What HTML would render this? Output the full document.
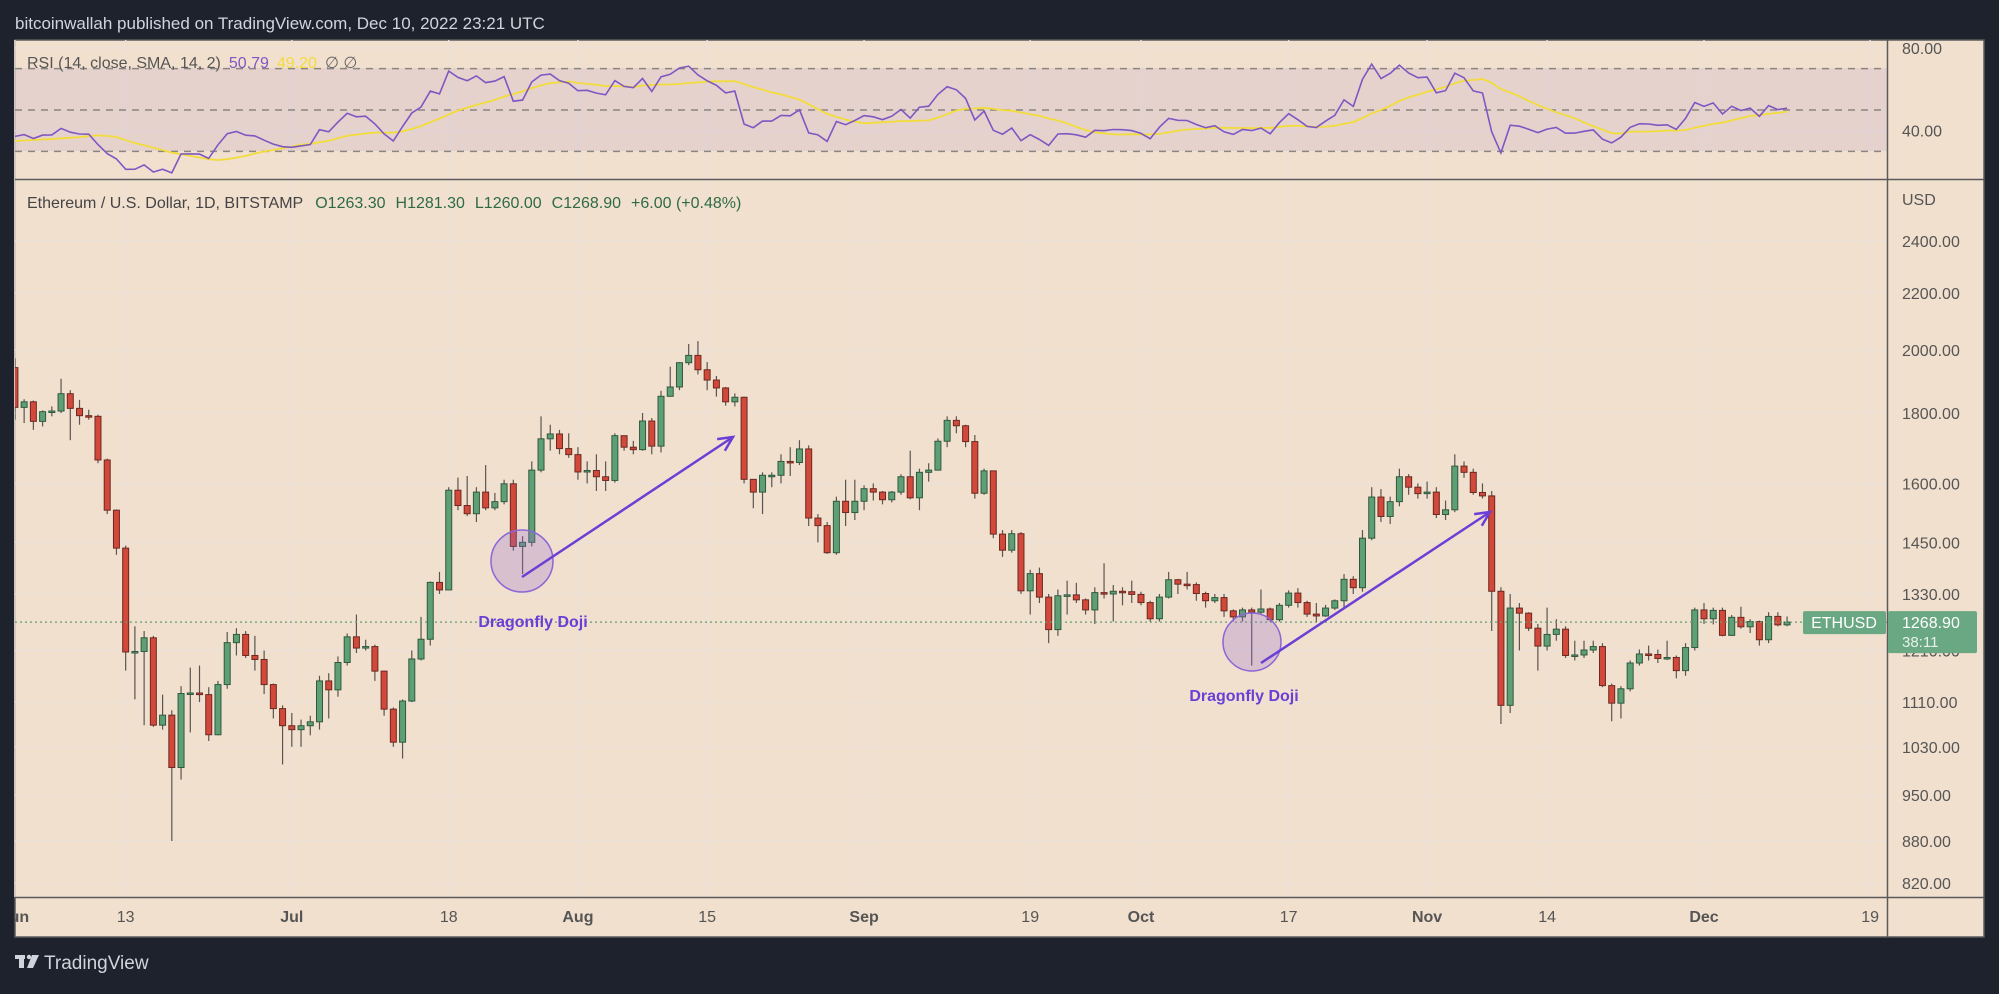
<!DOCTYPE html>
<html><head><meta charset="utf-8">
<style>
html,body{margin:0;padding:0;background:#1e222d;}
body{width:1999px;height:989px;overflow:hidden;font-family:"Liberation Sans",sans-serif;}
svg text{font-family:"Liberation Sans",sans-serif;}
</style></head>
<body>
<svg id="chart" width="1999" height="989" xmlns="http://www.w3.org/2000/svg">
  <defs>
    <clipPath id="mainClip"><rect x="15" y="180" width="1872" height="717"/></clipPath>
    <clipPath id="rsiClip"><rect x="15" y="40" width="1872" height="139"/></clipPath>
    <clipPath id="timeClip"><rect x="15" y="897" width="1872" height="40"/></clipPath>
  </defs>
  <text x="15" y="29" fill="#d1d4dc" font-size="17">bitcoinwallah published on TradingView.com, Dec 10, 2022 23:21 UTC</text>
  <rect x="15" y="40" width="1969" height="897" fill="#f2e0cf" stroke="#5a5a5a" stroke-width="1.5"/>
  <g id="grid"></g>
  <rect x="15" y="68" width="1872" height="83" fill="rgba(126,87,194,0.10)"/>
  <g id="rsiLevels"></g>
  <g id="rsiPane" clip-path="url(#rsiClip)"></g>
  <g id="mainPane" clip-path="url(#mainClip)"></g>
  <line x1="15" y1="179.5" x2="1984" y2="179.5" stroke="#5a5a5a" stroke-width="1.5"/>
  <line x1="1887.5" y1="40" x2="1887.5" y2="937" stroke="#5a5a5a" stroke-width="1.5"/>
  <line x1="15" y1="897.5" x2="1984" y2="897.5" stroke="#5a5a5a" stroke-width="1.5"/>
  <g id="axes"></g>
  <g id="timeAxis" clip-path="url(#timeClip)"></g>
  <text x="27" y="68" font-size="16" fill="#555"><tspan>RSI (14, close, SMA, 14, 2)</tspan><tspan dx="8" fill="#7e57c2">50.79</tspan><tspan dx="8" fill="#f2dc3a">49.20</tspan><tspan dx="8" fill="#666">∅ ∅</tspan></text>
  <text x="27" y="208" font-size="16" fill="#444"><tspan>Ethereum / U.S. Dollar, 1D, BITSTAMP</tspan><tspan dx="12" fill="#2e6b45">O1263.30</tspan><tspan dx="10" fill="#2e6b45">H1281.30</tspan><tspan dx="10" fill="#2e6b45">L1260.00</tspan><tspan dx="10" fill="#2e6b45">C1268.90</tspan><tspan dx="10" fill="#2e6b45">+6.00 (+0.48%)</tspan></text>
  <text x="1902" y="205" font-size="16" fill="#555">USD</text>
  <g>
    <rect x="15" y="955" width="10" height="4" fill="#d1d4dc"/>
    <rect x="19" y="955" width="5" height="13" fill="#d1d4dc"/>
    <circle cx="29" cy="957" r="2.2" fill="#d1d4dc"/>
    <polygon points="32,955 39,955 33,968 27,968" fill="#d1d4dc"/>
    <text x="44" y="969" font-size="19" fill="#d1d4dc">TradingView</text>
  </g>
</svg>
<script>
// ---- data ----
const preCloses = [2728,2859,2783,2940,2749,2695,2636,2519,2245,2342,2074,1960,2013,2060,2145,2025,2090,1912,2018,1961,1975,2043,1972,1978,1943,1793,1725,1793,1812,1997,1942];
const closes = [
1817,1834,1775,1804,1806,1859,1814,1792,1790,1664,1530,1436,1207,1208,1236,1068,1086,995,1126,1127,1124,1051,1143,1226,1243,1200,1192,1143,1098,1067,
1060,1067,1074,1150,1133,1186,1238,1215,1218,1169,1097,1038,1112,1193,1233,1356,1339,1582,1542,1521,1577,1536,1552,1599,1440,1450,1636,1724,1738,1696,1679,
1631,1635,1618,1608,1733,1700,1693,1776,1703,1851,1880,1958,1982,1935,1902,1877,1834,1848,1611,1577,1622,1622,1660,1657,1695,1510,1491,1425,1553,1524,1553,
1586,1577,1557,1577,1618,1562,1630,1636,1717,1778,1762,1716,1574,1634,1470,1431,1471,1337,1376,1323,1253,1326,1328,1317,1295,1333,1330,1336,1335,1329,
1311,1276,1323,1362,1352,1351,1331,1315,1322,1293,1280,1295,1290,1297,1274,1305,1332,1311,1286,1282,1299,1315,1363,1344,1460,1564,1514,1552,1618,1590,1573,
1577,1519,1531,1647,1630,1576,1567,1336,1104,1299,1288,1256,1219,1243,1254,1200,1201,1211,1218,1141,1108,1135,1185,1203,1202,1194,1196,1170,1216,1295,
1276,1294,1241,1279,1259,1270,1232,1281,1263,1269];
const highs = [
1972,1842,1838,1808,1820,1906,1870,1840,1810,1795,1668,1532,1442,1260,1250,1240,1124,1095,1140,1176,1180,1138,1150,1248,1256,1250,1240,1210,1145,1104,
1090,1078,1085,1160,1165,1198,1245,1285,1232,1222,1170,1100,1115,1210,1280,1358,1380,1590,1616,1620,1590,1650,1575,1610,1610,1465,1660,1790,1765,1750,1740,
1700,1660,1680,1660,1740,1730,1718,1800,1785,1868,1945,1960,2020,2030,1960,1915,1880,1860,1850,1605,1630,1630,1680,1700,1720,1705,1520,1500,1565,1610,1610,
1595,1600,1580,1580,1625,1690,1640,1655,1725,1790,1790,1765,1735,1640,1635,1480,1480,1475,1385,1390,1330,1340,1360,1355,1320,1345,1400,1350,1345,1360,
1335,1315,1330,1380,1364,1380,1356,1335,1330,1330,1296,1300,1300,1340,1300,1310,1338,1343,1315,1310,1306,1318,1375,1370,1480,1590,1585,1565,1640,1625,1600,
1605,1590,1555,1680,1660,1640,1600,1580,1345,1330,1310,1290,1265,1300,1275,1260,1230,1230,1230,1225,1145,1140,1190,1212,1220,1212,1230,1200,1225,1300,
1310,1300,1300,1284,1302,1275,1272,1290,1290,1281];
const lows = [
1780,1770,1750,1760,1790,1800,1720,1765,1780,1655,1520,1420,1170,1115,1068,1065,1060,880,975,1055,1110,1040,1050,1135,1200,1195,1170,1125,1080,1000,
1030,1030,1050,1060,1080,1120,1180,1205,1210,1150,1085,1030,1010,1110,1190,1220,1330,1340,1530,1515,1500,1530,1530,1545,1430,1375,1440,1630,1690,1680,1670,
1610,1600,1580,1580,1602,1690,1680,1690,1680,1685,1850,1870,1950,1920,1870,1850,1822,1820,1600,1535,1520,1590,1600,1620,1650,1490,1450,1422,1420,1490,1505,
1530,1555,1545,1550,1570,1558,1530,1605,1635,1700,1740,1700,1560,1570,1460,1415,1425,1330,1285,1310,1225,1240,1285,1310,1285,1265,1320,1270,1305,1310,
1305,1270,1270,1320,1330,1340,1315,1300,1310,1280,1270,1270,1180,1285,1270,1270,1300,1300,1280,1270,1280,1295,1300,1330,1335,1455,1500,1495,1540,1570,1560,
1560,1510,1505,1525,1615,1570,1560,1250,1070,1090,1210,1250,1170,1210,1230,1195,1190,1195,1205,1138,1075,1080,1130,1180,1190,1185,1191,1155,1160,1210,
1265,1264,1239,1240,1255,1246,1220,1225,1260,1260];
const priceTicks = [2400,2200,2000,1800,1600,1450,1330,1210,1110,1030,950,880,820];
const priceTickLabels = ["2400.00","2200.00","2000.00","1800.00","1600.00","1450.00","1330.00","1210.00","1110.00","1030.00","950.00","880.00","820.00"];
const timeTickDays = [0,12,30,47,61,75,92,110,122,138,153,166,183,201];
const timeTickLabels = ["Jun","13","Jul","18","Aug","15","Sep","19","Oct","17","Nov","14","Dec","19"];
const timeTickBold = [1,0,1,0,1,0,1,0,1,0,1,0,1,0];
const rsiLevels = [70,50,30];
const lastPrice = 1268.9;

// ---- scales ----
const NS = "http://www.w3.org/2000/svg";
function xDay(d){ return 1704 + (d - 183) * 9.23; }
function yPrice(p){ return 350 + (Math.log(2000) - Math.log(p)) * 598; }
function yRsi(v){ return 110 - (v - 50) * 2.07; }
function mk(tag, attrs, parent){ const e=document.createElementNS(NS,tag); for(const k in attrs) e.setAttribute(k,attrs[k]); parent.appendChild(e); return e; }

const grid=document.getElementById('grid'), axes=document.getElementById('axes'), tAxis=document.getElementById('timeAxis');
const main=document.getElementById('mainPane'), rsiG=document.getElementById('rsiPane'), lv=document.getElementById('rsiLevels');

// grid
timeTickDays.forEach((d,i)=>{
  const x=xDay(d);
  const gl=mk('line',{x1:x,y1:40,x2:x,y2:897,stroke:'#ebe1d8','stroke-width':1.5},grid);
  
  
  const t=mk('text',{x:x,y:922,'text-anchor':'middle','font-size':16,fill:'#555','font-weight':timeTickBold[i]?'bold':'normal'},tAxis);
  t.textContent=timeTickLabels[i];
  
  
});
priceTicks.forEach((p,i)=>{
  const y=yPrice(p);
  const gl=mk('line',{x1:15,y1:y,x2:1887,y2:y,stroke:'#ebe1d8','stroke-width':1.5},grid);
  
  
  const t=mk('text',{x:1902,y:y+6,'font-size':16,fill:'#555'},axes);
  t.textContent=priceTickLabels[i];
  
  
});
[80,40].forEach(v=>{
  const y=yRsi(v);
  mk('line',{x1:15,y1:y,x2:1887,y2:y,stroke:'#ebe1d8','stroke-width':1.5},grid);
  const t=mk('text',{x:1902,y:y+6,'font-size':16,fill:'#555'},axes);
  t.textContent=v.toFixed(2);
  
  
});
rsiLevels.forEach(v=>{
  const l=mk('line',{x1:15,y1:yRsi(v),x2:1887,y2:yRsi(v),stroke:'#8a8580','stroke-width':1.5,'stroke-dasharray':'7 6'},lv);
  
  
});

// candles
const n=Math.min(closes.length,highs.length,lows.length);
for(let i=0;i<n;i++){
  const o = i===0 ? preCloses[preCloses.length-1] : closes[i-1];
  const c = closes[i];
  const h = Math.max(highs[i],o,c), l=Math.min(lows[i],o,c);
  const x = xDay(i);
  const up = c>=o;
  const g=mk('g',{},main);
  
  
  mk('line',{x1:x,y1:yPrice(h),x2:x,y2:yPrice(l),stroke:'#5a5550','stroke-width':1.2},g);
  const yt=yPrice(Math.max(o,c)), yb=yPrice(Math.min(o,c));
  mk('rect',{x:x-3,y:yt,width:6,height:Math.max(1.5,yb-yt),fill:up?'#5f9f76':'#d2483a',stroke:up?'#2f5a3e':'#6b2a22','stroke-width':1},g);
}

// RSI (Wilder) + SMA
const all=preCloses.concat(closes.slice(0,n));
const rsi=[]; let ag=0, al=0;
for(let i=1;i<all.length;i++){
  const ch=all[i]-all[i-1], gn=Math.max(ch,0), ls=Math.max(-ch,0);
  if(i<=14){ ag+=gn/14; al+=ls/14; } else { ag=(ag*13+gn)/14; al=(al*13+ls)/14; }
  rsi[i]= i>=14 ? (al===0?100:100-100/(1+ag/al)) : null;
}
const off=preCloses.length;
let rp='', sp='';
for(let i=0;i<n;i++){
  const k=i+off, v=rsi[k];
  rp += (i?'L':'M')+xDay(i).toFixed(1)+','+yRsi(v).toFixed(1);
  let s=0; for(let j=0;j<14;j++) s+=rsi[k-j]; s/=14;
  sp += (i?'L':'M')+xDay(i).toFixed(1)+','+yRsi(s).toFixed(1);
}
const sl=mk('path',{d:sp,fill:'none',stroke:'#f2dc3a','stroke-width':1.8},rsiG);


const rl=mk('path',{d:rp,fill:'none',stroke:'#7e57c2','stroke-width':1.6},rsiG);



// last price line + labels
const yl=yPrice(lastPrice);
const pl=mk('line',{x1:15,y1:yl,x2:1887,y2:yl,stroke:'#5f9f76','stroke-width':1.2,'stroke-dasharray':'2 3'},main);


const svg=document.getElementById('chart');
const sym=mk('g',{},svg);


mk('rect',{x:1803,y:yl-11,width:83,height:23,rx:2,fill:'#6aa783'},sym);
const st=mk('text',{x:1844,y:yl+6,'text-anchor':'middle','font-size':16,fill:'#fff'},sym); st.textContent='ETHUSD';
const pt=mk('g',{},svg);


mk('rect',{x:1888,y:yl-11,width:89,height:42,rx:2,fill:'#6aa783'},pt);
const t1=mk('text',{x:1902,y:yl+6,'font-size':16,fill:'#fff'},pt); t1.textContent=lastPrice.toFixed(2);
const t2=mk('text',{x:1902,y:yl+25,'font-size':15,fill:'#e8f2ea'},pt); t2.textContent='38:11';

// annotations
function annot(cx,cy,r,x1,y1,x2,y2,lx,ly,name){
  const g=mk('g',{},svg);
  
  
  mk('circle',{cx:cx,cy:cy,r:r,fill:'rgba(150,110,210,0.28)',stroke:'#8a66d6','stroke-width':1.5},g);
  mk('line',{x1:x1,y1:y1,x2:x2,y2:y2,stroke:'#6a3fd6','stroke-width':2.5},g);
  const a=Math.atan2(y2-y1,x2-x1), L=16;
  const p1=[x2-L*Math.cos(a-0.45),y2-L*Math.sin(a-0.45)], p2=[x2-L*Math.cos(a+0.45),y2-L*Math.sin(a+0.45)];
  mk('path',{d:`M${p1}L${x2},${y2}L${p2}`,fill:'none',stroke:'#6a3fd6','stroke-width':2.5},g);
  const t=mk('text',{x:lx,y:ly,'text-anchor':'middle','font-size':16,'font-weight':'bold',fill:'#6a3fd6'},g);
  t.textContent='Dragonfly Doji';
}
annot(522,561,31,522,577,733,437,533,627,'dragonfly-doji-annotation-jul');
annot(1252,642,29,1261,663,1490,512,1244,701,'dragonfly-doji-annotation-oct');
</script>
</body></html>
